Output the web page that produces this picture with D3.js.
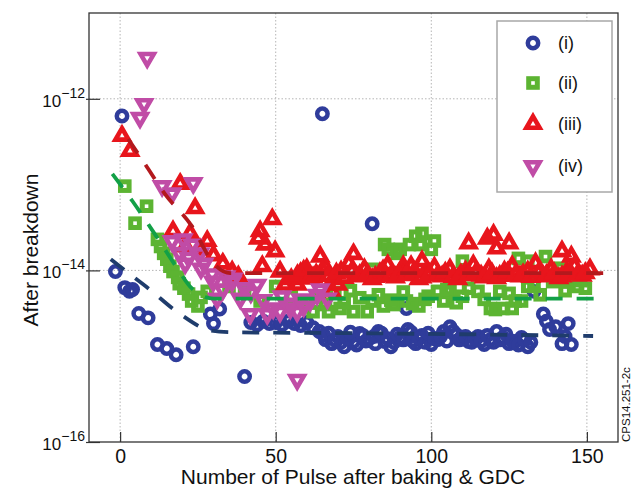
<!DOCTYPE html>
<html><head><meta charset="utf-8">
<script src="https://cdn.jsdelivr.net/npm/d3@7/dist/d3.min.js"></script>
<style>body{margin:0;background:#fff}svg{display:block}text{font-family:"Liberation Sans",Arial,sans-serif}</style>
</head><body><svg id="c" width="636" height="490"></svg>
<script>
// ---------------- data ----------------
const xTicks = [0, 50, 100, 150];
const yTickExps = [-12, -14, -16];
const seriesNames = ["(i)", "(ii)", "(iii)", "(iv)"];

const xI = [0.6, 65, 81, -1.5, 1.5, 3, 4, 6, 9, 12, 15, 18, 23.5, 29, 30, 32, 40, 92,
  42, 44, 46, 48, 50, 52, 54, 56, 58, 60, 62,
  64, 66, 68, 70, 72, 75, 77, 80, 83, 85, 87, 90, 92.5, 95, 97, 100, 102, 104, 106, 108,
  110, 112, 115, 117, 119, 121, 123, 125, 127, 129, 131, 133, 136, 137, 138, 140, 142, 143, 144, 145,
  65.5, 67, 69, 71, 73, 74, 76, 78, 79, 81.5, 82, 84, 86, 88, 89, 91, 93.5, 94, 96, 98, 99, 101, 103, 105, 107, 109, 111, 113, 114, 116, 118, 120, 122, 124, 126, 128, 130, 132];
const yI = [6.3e-13, 6.7e-13, 3.5e-14, 9.7e-15, 6.3e-15, 5.7e-15, 6.0e-15, 3.15e-15, 2.8e-15, 1.37e-15, 1.23e-15, 1.04e-15, 1.29e-15, 3.1e-15, 2.4e-15, 3.55e-15, 5.8e-16, 3.6e-15,
  2.47e-15, 2.33e-15, 2.55e-15, 2.4e-15, 2.47e-15, 2.33e-15, 2.55e-15, 2.4e-15, 2.28e-15, 2.47e-15, 2.15e-15,
  1.94e-15, 1.56e-15, 1.40e-15, 1.7e-15, 1.29e-15, 1.48e-15, 1.84e-15, 1.6e-15, 1.94e-15, 1.48e-15, 1.29e-15, 1.65e-15, 2.05e-15, 1.40e-15, 1.74e-15, 1.37e-15, 1.56e-15, 1.94e-15, 2.2e-15, 1.79e-15,
  1.6e-15, 1.48e-15, 1.7e-15, 1.37e-15, 1.56e-15, 1.94e-15, 1.65e-15, 1.40e-15, 1.48e-15, 1.65e-15, 1.29e-15, 5.7e-15, 3.1e-15, 2.55e-15, 2.05e-15, 2.2e-15, 1.40e-15, 1.7e-15, 2.4e-15, 1.37e-15,
  1.75e-15, 1.85e-15, 1.55e-15, 1.45e-15, 1.6e-15, 1.9e-15, 1.35e-15, 1.75e-15, 1.5e-15, 1.7e-15, 1.4e-15, 1.85e-15, 1.6e-15, 1.45e-15, 1.8e-15, 1.55e-15, 1.9e-15, 1.5e-15, 1.6e-15, 1.45e-15, 1.85e-15, 1.6e-15, 1.7e-15, 1.5e-15, 1.95e-15, 1.55e-15, 1.7e-15, 1.45e-15, 1.6e-15, 1.5e-15, 1.75e-15, 1.45e-15, 1.55e-15, 1.8e-15, 1.5e-15, 1.35e-15, 1.55e-15, 1.45e-15];

const xII = [1.5, 8.5, 4.8, 12, 13, 14, 15, 16, 17, 18.5, 19, 20.5, 22, 23, 25, 26, 28,
  35, 40, 45, 50, 55, 60, 62, 67, 70.7, 75, 79.4, 81, 84.6,
  85, 86.2, 89, 90, 93, 95, 96.5, 97, 100, 101,
  102, 104, 106, 110, 115, 119, 122, 123, 126, 127, 131, 136.7, 139, 141.5, 146, 147, 149.5, 131, 120.6,
  81, 110, 128, 88, 92, 96, 99,
  64, 66, 69, 72, 74, 77, 83, 87, 91, 94, 98, 105, 108, 112, 117, 125, 129, 133, 135, 143, 148];
const yII = [9.6e-14, 5.6e-14, 3.55e-14, 2.3e-14, 1.9e-14, 1.58e-14, 1.35e-14, 1.12e-14, 9.7e-15, 8.3e-15, 7.0e-15, 6.2e-15, 5.3e-15, 4.4e-15, 3.85e-15, 4.85e-15, 5.7e-15,
  6.5e-15, 5.7e-15, 4.4e-15, 6.5e-15, 5.0e-15, 4.4e-15, 3.3e-15, 3.3e-15, 3.6e-15, 3.3e-15, 3.3e-15, 4.4e-15, 3.85e-15,
  2.0e-14, 1.76e-14, 1.58e-14, 1.76e-14, 2.0e-14, 2.5e-14, 2.0e-14, 2.7e-14, 1.76e-14, 2.2e-14,
  5.7e-15, 4.4e-15, 5.7e-15, 5.0e-15, 5.7e-15, 3.6e-15, 5.7e-15, 3.6e-15, 3.6e-15, 4.4e-15, 6.5e-15, 1.45e-14, 7.4e-15, 1.06e-14, 8.1e-15, 6.5e-15, 6.2e-15, 1.28e-14, 3.5e-15,
  1.03e-14, 1.28e-14, 1.38e-14, 4.0e-15, 4.4e-15, 3.85e-15, 5.0e-15,
  5.0e-15, 4.0e-15, 5.5e-15, 4.2e-15, 5.8e-15, 4.8e-15, 5.2e-15, 4.5e-15, 5.6e-15, 4.1e-15, 4.6e-15, 6.0e-15, 4.2e-15, 6.2e-15, 4.6e-15, 5.4e-15, 4.4e-15, 7.0e-15, 5.2e-15, 5.8e-15, 7.6e-15];

const xIII = [0.6, 3.2, 19.3, 24.1, 17, 22.5, 28, 30, 25.7, 21, 33, 36, 38, 44.4, 48.9, 45, 46.6, 49.8, 45.7, 51.4, 53, 55, 57, 64.3, 75, 70, 68,
  58, 60, 62, 66, 68.5, 71, 73.5, 76, 78.5, 81, 83.5, 86, 88.5, 91, 93.5, 96, 98.5, 101, 103.5, 106, 108.5, 111, 113.5, 116, 118.5, 121, 123.5, 126, 128.5, 131, 133.5, 136, 138.5, 141, 143.5, 146, 148.5, 151,
  91, 97, 112, 118, 121, 120, 125, 142, 145,
  57, 59, 61, 63, 65, 67, 69.5, 72, 74.5, 77, 79.5, 82, 84.5, 87, 89.5, 92, 94.5, 97, 99.5, 102, 104.5, 107, 109.5, 112, 114.5, 117, 119.5, 122, 124.5, 127, 129.5, 132, 134.5, 137, 139.5, 142, 144.5, 147, 149.5];
const yIII = [3.7e-13, 2.47e-13, 1.02e-13, 5.3e-14, 2.86e-14, 2.7e-14, 2.2e-14, 1.5e-14, 1.75e-14, 1.9e-14, 1.2e-14, 9.7e-15, 8.5e-15, 2.35e-14, 3.95e-14, 2.86e-14, 2.0e-14, 1.67e-14, 1.12e-14, 9.7e-15, 6.8e-15, 7.9e-15, 6.8e-15, 1.45e-14, 1.55e-14, 6.8e-15, 5.7e-15,
  9.3e-15, 1.03e-14, 8.3e-15, 1.08e-14, 7.9e-15, 9.7e-15, 1.21e-14, 8.5e-15, 1.03e-14, 7.9e-15, 9.3e-15, 1.15e-14, 8.3e-15, 9.7e-15, 1.12e-14, 7.9e-15, 9.5e-15, 1.08e-14, 8.5e-15, 1.03e-14, 7.9e-15, 9.7e-15, 1.15e-14, 8.7e-15, 1.03e-14, 8.1e-15, 9.7e-15, 1.12e-14, 8.5e-15, 9.7e-15, 1.21e-14, 8.5e-15, 1.03e-14, 8.1e-15, 9.5e-15, 1.12e-14, 8.7e-15, 1.03e-14,
  1.12e-14, 1.28e-14, 2.07e-14, 2.35e-14, 1.8e-14, 2.6e-14, 2.07e-14, 1.67e-14, 1.45e-14,
  8.8e-15, 9.9e-15, 8.0e-15, 9.0e-15, 1.0e-14, 8.6e-15, 9.2e-15, 8.2e-15, 9.8e-15, 8.8e-15, 9.0e-15, 8.4e-15, 1.0e-14, 8.6e-15, 9.0e-15, 8.8e-15, 9.6e-15, 8.3e-15, 9.1e-15, 8.7e-15, 9.4e-15, 8.4e-15, 9.0e-15, 8.8e-15, 9.6e-15, 8.3e-15, 9.2e-15, 8.6e-15, 9.4e-15, 8.8e-15, 9.0e-15, 8.4e-15, 9.4e-15, 8.8e-15, 9.2e-15, 8.5e-15, 9.6e-15, 8.9e-15, 9.3e-15];

const xIV = [8.7, 7.7, 6.4, 13.5, 16.7, 23.5, 16.7, 20.3, 23.2, 25.7, 20.9, 29.6, 29.9, 36, 36.3, 31.2, 38.6, 41.8, 44, 47.3, 49.2, 51.4, 54.7, 56.9, 54.7, 61.1, 64.3, 66.6, 63.3, 56.9,
  27, 33, 42, 46, 52, 59, 19, 22, 26, 34, 40, 58];
const yIV = [3.0e-12, 8.7e-13, 6.0e-13, 9.6e-14, 7.9e-14, 1.04e-13, 2.2e-14, 2.3e-14, 2.0e-14, 1.58e-14, 1.2e-14, 9.0e-15, 7.4e-15, 7.4e-15, 8.0e-15, 4.7e-15, 4.7e-15, 3.1e-15, 6.8e-15, 3.1e-15, 3.6e-15, 3.3e-15, 3.6e-15, 3.3e-15, 4.1e-15, 4.4e-15, 6.0e-15, 4.7e-15, 5.2e-15, 5.3e-16,
  1.2e-14, 6.0e-15, 5.5e-15, 4.5e-15, 5.0e-15, 3.8e-15, 1.6e-14, 1.4e-14, 1.05e-14, 8.5e-15, 6.2e-15, 4.6e-15];

// trend (dashed) lines
const trendXI = [-3, 2, 9, 19, 29, 36, 80, 152];
const trendYI = [1.35e-14, 9.7e-15, 6.2e-15, 3.15e-15, 2.0e-15, 1.9e-15, 1.85e-15, 1.72e-15];
const trendXII = [-2.5, 4, 11, 18, 23, 30, 155];
const trendYII = [1.33e-13, 6.4e-14, 2.7e-14, 1.11e-14, 6.2e-15, 4.7e-15, 4.7e-15];
const trendXIII = [2.6, 8, 14.5, 23, 30, 35.4, 157];
const trendYIII = [3.4e-13, 1.74e-13, 7.7e-14, 3.3e-14, 1.21e-14, 9.3e-15, 9.3e-15];

// ---------------- chart ----------------
const svg = d3.select("#c");
const L = 89, R = 618, T = 13, B = 442;
const x = d3.scaleLinear().domain([-10, 160]).range([L, R]);
const y = d3.scaleLog().domain([1e-16, 1e-11]).range([B, T]);

const colors = ["#2f3c9b", "#5cb432", "#e8151c", "#c04ca6"];
const trendColors = ["#1f3c6c", "#12a047", "#b3191d"];

// grid
const g = svg.append("g");
g.selectAll(".gx").data(xTicks).join("line")
  .attr("x1", d => x(d)).attr("x2", d => x(d)).attr("y1", T).attr("y2", B)
  .attr("stroke", "#b5b5b5").attr("stroke-width", 1).attr("stroke-dasharray", "1.5,2");
g.selectAll(".gy").data(yTickExps.filter(e => e > -16)).join("line")
  .attr("y1", d => y(Math.pow(10, d))).attr("y2", d => y(Math.pow(10, d))).attr("x1", L).attr("x2", R)
  .attr("stroke", "#b5b5b5").attr("stroke-width", 1).attr("stroke-dasharray", "1.5,2");

// axes via d3 axis (inner ticks)
const xAxis = d3.axisBottom(x).tickValues(xTicks).tickSize(-10).tickFormat(d3.format("d"));
const xg = svg.append("g").attr("transform", `translate(0,${B})`).call(xAxis);
xg.select(".domain").remove();
xg.selectAll(".tick line").attr("stroke", "#333").attr("stroke-width", 1.2);
xg.selectAll(".tick text").attr("font-size", 19.5).attr("fill", "#111").attr("dy", "0.9em")
  .style("font-family", '"Liberation Sans",Arial,sans-serif');

const yAxis = d3.axisLeft(y).tickValues(yTickExps.map(e => Math.pow(10, e))).tickSize(-11).tickFormat("");
const yg = svg.append("g").attr("transform", `translate(${L},0)`).call(yAxis);
yg.select(".domain").remove();
yg.selectAll(".tick line").attr("stroke", "#333").attr("stroke-width", 1.2).attr("x1", -3);

// y tick labels 10^n
yTickExps.forEach(e => {
  const yy = y(Math.pow(10, e));
  const t = svg.append("text").attr("x", 85).attr("y", yy + 8).attr("text-anchor", "end")
    .attr("font-size", 17).attr("fill", "#111");
  t.append("tspan").text("10");
  t.append("tspan").attr("font-size", 14).attr("dy", -9).text("\u2212" + Math.abs(e));
});

// frame
svg.append("rect").attr("x", L).attr("y", T).attr("width", R - L).attr("height", B - T)
  .attr("fill", "none").attr("stroke", "#333").attr("stroke-width", 1.3);

// markers
const tri = "M0,-7.6L6.6,3.8L-6.6,3.8Z";
const triDown = "M0,7.6L6.6,-3.8L-6.6,-3.8Z";
function drawMarker(sel, k, col) {
  if (k === 0) sel.append("circle").attr("r", 5.2).attr("fill", "none").attr("stroke", col).attr("stroke-width", 4.5);
  else if (k === 1) sel.append("rect").attr("x", -4.3).attr("y", -4.3).attr("width", 8.6).attr("height", 8.6)
    .attr("fill", "none").attr("stroke", col).attr("stroke-width", 5);
  else sel.append("path").attr("d", k === 2 ? tri : triDown).attr("fill", "none").attr("stroke", col)
    .attr("stroke-width", 4.6).attr("stroke-linejoin", "miter");
}
const seriesX = [xI, xII, xIII, xIV];
const seriesY = [yI, yII, yIII, yIV];
const plot = svg.append("g");
seriesX.forEach((xs, k) => {
  xs.forEach((xv, i) => {
    const m = plot.append("g").attr("transform", `translate(${x(xv)},${y(seriesY[k][i])})`);
    drawMarker(m, k, colors[k]);
  });
});

// trend lines
const line = d3.line().x(d => x(d[0])).y(d => y(d[1])).curve(d3.curveMonotoneX);
[[trendXI, trendYI], [trendXII, trendYII], [trendXIII, trendYIII]].forEach(([tx, ty], k) => {
  svg.append("path").attr("d", line(tx.map((v, i) => [v, ty[i]])))
    .attr("fill", "none").attr("stroke", trendColors[k]).attr("stroke-width", 3.8)
    .attr("stroke-dasharray", "17,14");
});

// legend
const lg = svg.append("g");
lg.append("rect").attr("x", 497).attr("y", 21).attr("width", 115).attr("height", 171)
  .attr("fill", "#fff").attr("stroke", "#a8a8a8").attr("stroke-width", 1.5);
const ly = [43, 83, 124, 166];
seriesNames.forEach((n, k) => {
  const m = lg.append("g").attr("transform", `translate(533,${ly[k]})`);
  drawMarker(m, k, colors[k]);
  lg.append("text").attr("x", 558).attr("y", ly[k] + 6).attr("font-size", 18).attr("fill", "#111").text(n);
});

// axis titles
svg.append("text").attr("x", (178 + 528) / 2).attr("y", 484).attr("text-anchor", "middle")
  .attr("font-size", 21).attr("fill", "#111").text("Number of Pulse after baking & GDC");
svg.append("text").attr("transform", "translate(38,250) rotate(-90)").attr("text-anchor", "middle")
  .attr("font-size", 21).attr("fill", "#111").text("After breakdown");
svg.append("text").attr("transform", "translate(630,442) rotate(-90)").attr("text-anchor", "start")
  .attr("font-size", 11.5).attr("fill", "#111").text("CPS14.251-2c");
</script></body></html>
